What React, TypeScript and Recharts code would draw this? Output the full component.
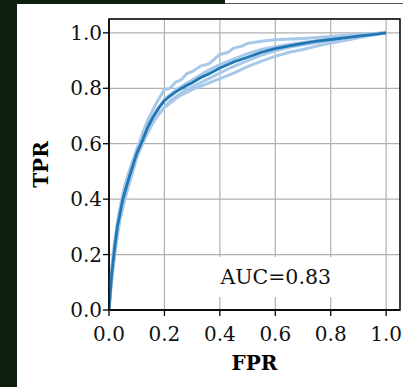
import {
  CartesianGrid,
  Line,
  LineChart,
  ReferenceArea,
  XAxis,
  YAxis,
} from "recharts";

// mean ROC curve
const meanFpr = [0, 0.005, 0.01, 0.02, 0.03, 0.04, 0.05, 0.07, 0.1, 0.12, 0.14, 0.16, 0.18, 0.2, 0.22, 0.25, 0.28, 0.3, 0.33, 0.36, 0.4, 0.45, 0.5, 0.55, 0.6, 0.65, 0.7, 0.75, 0.8, 0.85, 0.9, 0.95, 1];
const meanTpr = [0, 0.07, 0.13, 0.22, 0.3, 0.35, 0.4, 0.47, 0.565, 0.61, 0.66, 0.698, 0.73, 0.755, 0.772, 0.793, 0.81, 0.82, 0.838, 0.852, 0.873, 0.895, 0.912, 0.93, 0.943, 0.953, 0.962, 0.97, 0.976, 0.982, 0.988, 0.994, 1];

// per-fold curves
const fold1Fpr = [0, 0.01, 0.02, 0.04, 0.06, 0.08, 0.1, 0.12, 0.14, 0.17, 0.2, 0.22, 0.24, 0.26, 0.28, 0.3, 0.33, 0.36, 0.38, 0.4, 0.43, 0.45, 0.48, 0.5, 0.55, 0.6, 0.7, 0.8, 0.9, 1];
const fold1Tpr = [0, 0.15, 0.25, 0.37, 0.46, 0.52, 0.575, 0.635, 0.685, 0.745, 0.795, 0.8, 0.822, 0.83, 0.852, 0.86, 0.88, 0.888, 0.905, 0.922, 0.93, 0.945, 0.952, 0.962, 0.97, 0.975, 0.98, 0.987, 0.995, 1];

const fold2Fpr = [0, 0.01, 0.02, 0.04, 0.06, 0.08, 0.1, 0.13, 0.16, 0.2, 0.25, 0.3, 0.35, 0.4, 0.45, 0.5, 0.55, 0.6, 0.65, 0.7, 0.75, 0.8, 0.85, 0.9, 0.95, 1];
const fold2Tpr = [0, 0.11, 0.2, 0.33, 0.41, 0.48, 0.55, 0.62, 0.68, 0.73, 0.77, 0.795, 0.815, 0.835, 0.855, 0.878, 0.898, 0.915, 0.93, 0.94, 0.952, 0.963, 0.972, 0.982, 0.992, 1];

const fold3Fpr = [0, 0.01, 0.03, 0.05, 0.07, 0.1, 0.13, 0.16, 0.2, 0.25, 0.3, 0.35, 0.4, 0.45, 0.5, 0.55, 0.6, 0.65, 0.7, 0.8, 0.9, 1];
const fold3Tpr = [0, 0.14, 0.31, 0.42, 0.49, 0.58, 0.65, 0.7, 0.76, 0.8, 0.83, 0.86, 0.885, 0.905, 0.925, 0.94, 0.95, 0.958, 0.965, 0.978, 0.99, 1];

const fold4Fpr = [0, 0.01, 0.03, 0.05, 0.08, 0.11, 0.14, 0.18, 0.22, 0.27, 0.32, 0.38, 0.44, 0.5, 0.55, 0.6, 0.65, 0.7, 0.8, 0.9, 1];
const fold4Tpr = [0, 0.12, 0.28, 0.38, 0.49, 0.58, 0.645, 0.71, 0.755, 0.79, 0.815, 0.845, 0.875, 0.9, 0.92, 0.935, 0.948, 0.957, 0.972, 0.986, 1];

const ticks = [0, 0.2, 0.4, 0.6, 0.8, 1.0];
const aucText = "AUC=0.83";

const toPoints = (fpr: number[], tpr: number[]) =>
  fpr.map((x, i) => ({ x, y: tpr[i] }));

const folds = [
  toPoints(fold1Fpr, fold1Tpr),
  toPoints(fold2Fpr, fold2Tpr),
  toPoints(fold3Fpr, fold3Tpr),
  toPoints(fold4Fpr, fold4Tpr),
];
const mean = toPoints(meanFpr, meanTpr);

const serif = "'DejaVu Serif', serif";
const tickStyle = { fontFamily: serif, fontSize: 20, fill: "#111" };

export default function App() {
  return (
    <div
      style={{
        position: "fixed",
        left: 0,
        top: 0,
        width: 403,
        height: 387,
        background: "#fff",
        overflow: "hidden",
      }}
    >
      <div style={{ position: "absolute", left: 0, top: 0, width: 17, height: 387, background: "#0b1f0c" }} />
      <div style={{ position: "absolute", left: 0, top: 0, width: 225, height: 4, background: "#0b1f0c" }} />
      <div style={{ position: "absolute", left: 225, top: 3, width: 178, height: 1, background: "#555" }} />
      <div style={{ position: "absolute", left: 0, top: 0 }}>
        <LineChart width={403} height={387} margin={{ top: 19, right: 3, bottom: 27, left: 49 }}>
          <CartesianGrid stroke="#b0b0b0" strokeWidth={1.2} />
          <XAxis
            type="number"
            dataKey="x"
            domain={[0, 1.05]}
            ticks={ticks}
            tickFormatter={(v: number) => v.toFixed(1)}
            allowDataOverflow
            height={50}
            tick={tickStyle}
            tickSize={6}
            tickMargin={11}
            tickLine={{ stroke: "#000", strokeWidth: 1.3 }}
            axisLine={{ stroke: "#000", strokeWidth: 1.3 }}
            label={{
              content: ({ viewBox }: any) => (
                <text
                  x={viewBox.x + viewBox.width / 2}
                  y={370}
                  textAnchor="middle"
                  style={{ fontFamily: serif, fontSize: 20, fontWeight: "bold", fill: "#000" }}
                >
                  FPR
                </text>
              ),
            }}
          />
          <YAxis
            type="number"
            dataKey="y"
            domain={[0, 1.05]}
            ticks={ticks}
            tickFormatter={(v: number) => v.toFixed(1)}
            allowDataOverflow
            width={60}
            tick={tickStyle}
            tickSize={6}
            tickMargin={1}
            tickLine={{ stroke: "#000", strokeWidth: 1.3 }}
            axisLine={{ stroke: "#000", strokeWidth: 1.3 }}
            label={{
              content: ({ viewBox }: any) => {
                const cx = 41;
                const cy = viewBox.y + viewBox.height / 2;
                return (
                  <text
                    x={cx}
                    y={cy}
                    textAnchor="middle"
                    dominantBaseline="central"
                    transform={`rotate(-90 ${cx} ${cy})`}
                    style={{ fontFamily: serif, fontSize: 20, fontWeight: "bold", fill: "#000" }}
                  >
                    TPR
                  </text>
                );
              },
            }}
          />
          {folds.map((d, i) => (
            <Line
              key={i}
              data={d}
              dataKey="y"
              type="linear"
              stroke="#a8c8ea"
              strokeWidth={3}
              dot={false}
              activeDot={false}
              isAnimationActive={false}
            />
          ))}
          <Line
            data={mean}
            dataKey="y"
            type="linear"
            stroke="#1f77b4"
            strokeWidth={2.8}
            dot={false}
            activeDot={false}
            isAnimationActive={false}
          />
          <ReferenceArea
            x1={0.383}
            x2={0.82}
            y1={0.047}
            y2={0.191}
            fill="#fff"
            fillOpacity={1}
            stroke="none"
            label={{
              value: aucText,
              position: "center",
              style: { fontFamily: serif, fontSize: 20.5, fill: "#111" },
            }}
          />
          <ReferenceArea
            x1={0}
            x2={1.05}
            y1={0}
            y2={1.05}
            fill="none"
            fillOpacity={0}
            stroke="#000"
            strokeWidth={1.4}
            ifOverflow="visible"
          />
        </LineChart>
      </div>
    </div>
  );
}
